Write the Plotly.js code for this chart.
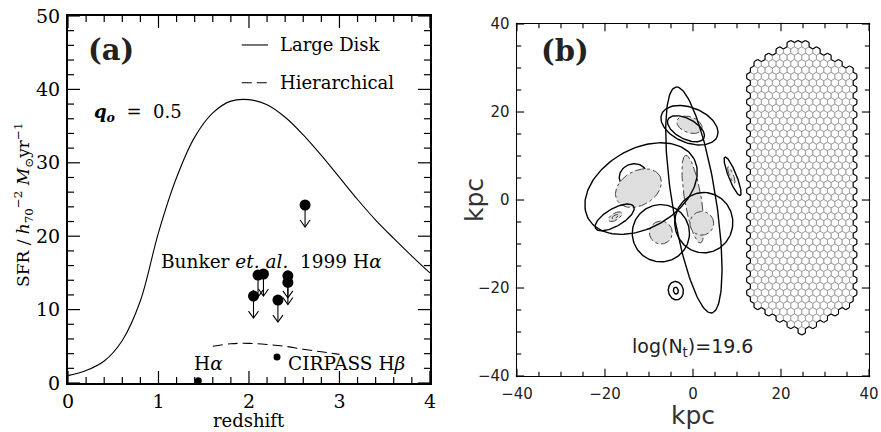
<!DOCTYPE html>
<html><head><meta charset="utf-8">
<script src="https://cdn.plot.ly/plotly-3.0.1.min.js"></script>
<style>html,body{margin:0;padding:0;background:#fff}</style>
</head><body><div id="chart" style="width:881px;height:432px"></div>
<script>
// ---------- Panel (a) data ----------
const diskZ   = [0,0.2,0.4,0.6,0.8,1.0,1.2,1.4,1.6,1.8,2.0,2.2,2.4,2.6,2.8,3.0,3.2,3.4,3.6,3.8,4.0];
const diskSFR = [1.0,1.7,3.0,5.8,11.2,20.5,28.0,33.5,36.8,38.4,38.6,37.9,36.2,33.8,31.0,28.0,25.0,22.2,19.7,17.3,15.0];
const hierZ   = [1.6,1.8,2.0,2.2,2.4,2.6,2.8,3.0];
const hierSFR = [5.0,5.35,5.4,5.25,5.0,4.6,4.25,3.9];
const bunkerZ   = [2.62,2.10,2.16,2.05,2.32,2.43,2.43];
const bunkerSFR = [24.25,14.7,14.85,11.85,11.3,14.6,13.7];
const haZ = [1.44],  haSFR = [0.3];
const cirZ = [2.31], cirSFR = [3.55];

// ---------- Panel (b) data (kpc) ----------
// solid outline ellipses: centre x, centre y, semi-major, semi-minor, angle of major axis (deg)
const solidCx  = [-11.8, 0.2, -0.8, -1.6, -17.8, -7.3, 2.45, 9.0, -3.9, -3.9];
const solidCy  = [2.6, 0.0, 17.0, 16.2, -3.95, -7.55, -5.15, 5.4, -20.6, -20.6];
const solidA   = [13.8, 26.0, 6.8, 4.6, 5.0, 6.5, 6.85, 4.7, 2.1, 0.8];
const solidB   = [9.0, 5.0, 4.0, 2.3, 2.0, 6.5, 6.6, 0.9, 1.7, 0.55];
const solidAng = [30, 99, -22, -28, 30, 0, 90, 111.6, 100, 100];
// lobe behind the grey region
const lobeCx = [-13.6], lobeCy = [5.4], lobeA = [3.2], lobeB = [2.8], lobeAng = [20];
// grey filled regions (dash-dot outline)
const greyCx  = [-0.8, 0.0, -12.4, -17.7, -7.3, 2.0, 8.7, -17.7];
const greyCy  = [17.1, 0.2, 2.7, -3.8, -7.4, -5.3, 5.7, -3.8];
const greyA   = [3.0, 10.1, 5.6, 1.7, 2.6, 2.7, 2.0, 0.8];
const greyB   = [1.8, 1.9, 3.9, 0.8, 2.6, 2.7, 0.45, 0.35];
const greyAng = [-20, 99.5, 30, 30, 0, 0, 111.6, 30];
// hexagonal fibre bundle
const hexLeft = 12.2, hexRight = 36.4, hexApexX = 24.3;
const hexTopSide = 30.3, hexTopApex = 36.9, hexBotSide = -23.7, hexBotApex = -30.7;
const hexCellsAcross = 14.5;

function ellipsePts(cx, cy, a, b, angDeg, n) {
  const th = angDeg * Math.PI / 180, xs = [], ys = [];
  for (let i = 0; i <= n; i++) {
    const t = 2 * Math.PI * i / n;
    xs.push(cx + a * Math.cos(t) * Math.cos(th) - b * Math.sin(t) * Math.sin(th));
    ys.push(cy + a * Math.cos(t) * Math.sin(th) + b * Math.sin(t) * Math.cos(th));
  }
  return [xs, ys];
}

const traces = [];
// Panel (a)
traces.push({x: diskZ, y: diskSFR, mode: 'lines', line: {color: '#000', width: 1.1, shape: 'spline', smoothing: 1}, xaxis: 'x', yaxis: 'y', hoverinfo: 'skip'});
traces.push({x: hierZ, y: hierSFR, mode: 'lines', line: {color: '#000', width: 1.1, shape: 'spline', dash: '10px,5px'}, xaxis: 'x', yaxis: 'y', hoverinfo: 'skip'});
// upper-limit arrows
const arrowLen = 3.0, headH = 0.95, headW = 0.055;
const ax = [], ay = [];
for (let i = 0; i < bunkerZ.length; i++) {
  const z = bunkerZ[i], s = bunkerSFR[i], tip = s - arrowLen;
  ax.push(z, z, null, z - headW, z, z + headW, null);
  ay.push(s, tip, null, tip + headH, tip, tip + headH, null);
}
traces.push({x: ax, y: ay, mode: 'lines', line: {color: '#000', width: 1.1}, xaxis: 'x', yaxis: 'y', hoverinfo: 'skip'});
traces.push({x: bunkerZ, y: bunkerSFR, mode: 'markers', marker: {color: '#000', size: 11}, xaxis: 'x', yaxis: 'y', hoverinfo: 'skip'});
traces.push({x: haZ.concat(cirZ), y: haSFR.concat(cirSFR), mode: 'markers', marker: {color: '#000', size: 7}, xaxis: 'x', yaxis: 'y', hoverinfo: 'skip', cliponaxis: false});

// Panel (b): hex grid
{
  const w = (hexRight - hexLeft) / hexCellsAcross;
  const R = w / Math.sqrt(3);
  const dy = 1.5 * R;
  const half = (hexRight - hexLeft) / 2;
  const roofTop = x => hexTopSide + (hexTopApex - hexTopSide) * (1 - Math.abs(x - hexApexX) / half);
  const roofBot = x => hexBotSide - (hexBotSide - hexBotApex) * (1 - Math.abs(x - hexApexX) / half);
  const gx = [], gy = [];
  const edgeCount = {}, edgeSeg = {};
  let row = 0;
  for (let yc = hexBotApex + R; yc <= hexTopApex; yc += dy, row++) {
    const off = (row % 2) ? w : w / 2;
    for (let k = 0; k < 15; k++) {
      const xc = hexLeft + off + k * w;
      if (xc > hexRight) continue;
      if (yc > roofTop(xc) - 0.45 * R || yc < roofBot(xc) + 0.45 * R) continue;
      const vx = [], vy = [];
      for (let j = 0; j < 6; j++) {
        const ang = Math.PI / 2 + j * Math.PI / 3;
        vx.push(xc + R * Math.cos(ang)); vy.push(yc + R * Math.sin(ang));
      }
      for (let j = 0; j <= 6; j++) { gx.push(vx[j % 6]); gy.push(vy[j % 6]); }
      gx.push(null); gy.push(null);
      for (let j = 0; j < 6; j++) {
        const x1 = vx[j], y1 = vy[j], x2 = vx[(j + 1) % 6], y2 = vy[(j + 1) % 6];
        const key = Math.round((x1 + x2) * 50) + '_' + Math.round((y1 + y2) * 50);
        edgeCount[key] = (edgeCount[key] || 0) + 1;
        edgeSeg[key] = [x1, y1, x2, y2];
      }
    }
  }
  traces.push({x: gx, y: gy, mode: 'lines', line: {color: '#9a9a9a', width: 0.7}, xaxis: 'x2', yaxis: 'y2', hoverinfo: 'skip'});
  const bx = [], by = [];
  for (const key in edgeCount) {
    if (edgeCount[key] === 1) {
      const s = edgeSeg[key];
      bx.push(s[0], s[2], null); by.push(s[1], s[3], null);
    }
  }
  traces.push({x: bx, y: by, mode: 'lines', line: {color: '#000', width: 1.1}, xaxis: 'x2', yaxis: 'y2', hoverinfo: 'skip'});
}
// lobe (behind grey)
for (let i = 0; i < lobeCx.length; i++) {
  const p = ellipsePts(lobeCx[i], lobeCy[i], lobeA[i], lobeB[i], lobeAng[i], 90);
  traces.push({x: p[0], y: p[1], mode: 'lines', line: {color: '#000', width: 1.4}, xaxis: 'x2', yaxis: 'y2', hoverinfo: 'skip'});
}
// grey filled
for (let i = 0; i < greyCx.length; i++) {
  const p = ellipsePts(greyCx[i], greyCy[i], greyA[i], greyB[i], greyAng[i], 90);
  traces.push({x: p[0], y: p[1], mode: 'lines', fill: 'toself', fillcolor: '#dedede', line: {color: '#444', width: 1, dash: 'dashdot'}, xaxis: 'x2', yaxis: 'y2', hoverinfo: 'skip'});
}
// solid outlines
{
  const sx = [], sy = [];
  for (let i = 0; i < solidCx.length; i++) {
    const p = ellipsePts(solidCx[i], solidCy[i], solidA[i], solidB[i], solidAng[i], 140);
    sx.push(...p[0], null); sy.push(...p[1], null);
  }
  traces.push({x: sx, y: sy, mode: 'lines', line: {color: '#000', width: 1.4}, xaxis: 'x2', yaxis: 'y2', hoverinfo: 'skip'});
}

// ---------- inside tick marks on all four sides, drawn as line-symbol markers ----------
// pxX / pxY: pixels per data unit of each panel
function tickMarkers(xa, ya, xr, yr, xMaj, xMin, yMaj, yMin, lenMaj, lenMin, pxX, pxY, lw) {
  const out = [];
  const vx = {maj: [[], []], min: [[], []]};
  const nX = Math.round((xr[1] - xr[0]) / xMin);
  for (let i = 0; i <= nX; i++) {
    const v = xr[0] + i * xMin;
    const isMaj = Math.abs(v / xMaj - Math.round(v / xMaj)) < 1e-6;
    const L = isMaj ? lenMaj : lenMin;
    const k = isMaj ? 'maj' : 'min';
    const h = (L / 2) / pxY;
    vx[k][0].push(v, v); vx[k][1].push(yr[0] + h, yr[1] - h);
  }
  const vy = {maj: [[], []], min: [[], []]};
  const nY = Math.round((yr[1] - yr[0]) / yMin);
  for (let i = 0; i <= nY; i++) {
    const v = yr[0] + i * yMin;
    const isMaj = Math.abs(v / yMaj - Math.round(v / yMaj)) < 1e-6;
    const L = isMaj ? lenMaj : lenMin;
    const k = isMaj ? 'maj' : 'min';
    const h = (L / 2) / pxX;
    vy[k][0].push(xr[0] + h, xr[1] - h); vy[k][1].push(v, v);
  }
  ['maj', 'min'].forEach(function (k) {
    const L = k === 'maj' ? lenMaj : lenMin;
    out.push({x: vx[k][0], y: vx[k][1], mode: 'markers', xaxis: xa, yaxis: ya, hoverinfo: 'skip', cliponaxis: false,
      marker: {symbol: 'line-ns', size: L, color: '#000', line: {color: '#000', width: lw}}});
    out.push({x: vy[k][0], y: vy[k][1], mode: 'markers', xaxis: xa, yaxis: ya, hoverinfo: 'skip', cliponaxis: false,
      marker: {symbol: 'line-ew', size: L, color: '#000', line: {color: '#000', width: lw}}});
  });
  return out;
}
// panel (a): 90.5 px per redshift unit, 7.34 px per SFR unit
traces.push(...tickMarkers('x', 'y', [0, 4], [0, 50], 1, 0.2, 10, 2, 10, 5, 90.5, 7.34, 1.2));
// panel (b): 4.4 px per kpc
traces.push(...tickMarkers('x2', 'y2', [-40, 40], [-40, 40], 20, 5, 20, 5, 6, 3.5, 4.4, 4.4, 1.1));

const shapes = [
  {type: 'line', xref: 'x', yref: 'y', x0: 1.92, x1: 2.21, y0: 46.05, y1: 46.05, line: {color: '#000', width: 1.1}},
  {type: 'line', xref: 'x', yref: 'y', x0: 1.92, x1: 2.21, y0: 40.9, y1: 40.9, line: {color: '#000', width: 1.1, dash: '10px,5px'}}
];

const serif = 'DejaVu Serif';
const sans = 'DejaVu Sans';
function axA(extra) {
  return Object.assign({ticks: '', showline: true, linecolor: '#000', mirror: true, showgrid: false, zeroline: false}, extra);
}
const layout = {
  width: 881, height: 432,
  margin: {l: 0, r: 0, t: 0, b: 0},
  paper_bgcolor: '#fff', plot_bgcolor: '#fff',
  showlegend: false,
  xaxis: axA({domain: [0.0772, 0.488], range: [0, 4], dtick: 1, linewidth: 2, ticklabelstandoff: 0,
    tickfont: {family: serif, size: 19, color: '#000'}, anchor: 'y'}),
  yaxis: axA({domain: [0.1134, 0.963], range: [0, 50], dtick: 10, linewidth: 2, ticklabelstandoff: 2,
    tickfont: {family: serif, size: 19, color: '#000'}, anchor: 'x'}),
  xaxis2: axA({domain: [0.5868, 0.9864], range: [-40, 40], dtick: 20, linewidth: 1.4, ticklabelstandoff: 4,
    tickfont: {family: sans, size: 15, color: '#222'}, anchor: 'y2'}),
  yaxis2: axA({domain: [0.1296, 0.9444], range: [-40, 40], dtick: 20, linewidth: 1.4, ticklabelstandoff: 3,
    tickfont: {family: sans, size: 15, color: '#222'}, anchor: 'x2'}),
  shapes: shapes,
  annotations: [
    {xref: 'x', yref: 'y', x: 0.2, y: 45.4, xanchor: 'left', yanchor: 'middle', showarrow: false, text: '<b>(a)</b>', font: {family: serif, size: 29, color: '#222'}},
    {xref: 'x', yref: 'y', x: 2.32, y: 46.05, xanchor: 'left', yanchor: 'middle', showarrow: false, text: 'Large Disk', font: {family: serif, size: 18, color: '#000'}},
    {xref: 'x', yref: 'y', x: 2.32, y: 40.9, xanchor: 'left', yanchor: 'middle', showarrow: false, text: 'Hierarchical', font: {family: serif, size: 18, color: '#000'}},
    {xref: 'x', yref: 'y', x: 0.27, y: 36.8, xanchor: 'left', yanchor: 'middle', showarrow: false, text: '<b><i>q</i></b><sub><b><i>o</i></b></sub>\u00a0 = \u00a00.5', font: {family: serif, size: 18, color: '#000'}},
    {xref: 'x', yref: 'y', x: 1.01, y: 16.6, xanchor: 'left', yanchor: 'middle', showarrow: false, text: 'Bunker <i>et. al.</i>\u00a0 1999 H<i>α</i>', font: {family: serif, size: 18.5, color: '#000'}},
    {xref: 'x', yref: 'y', x: 1.37, y: 2.6, xanchor: 'left', yanchor: 'middle', showarrow: false, text: 'H<i>α</i>', font: {family: serif, size: 18.5, color: '#000'}},
    {xref: 'x', yref: 'y', x: 2.41, y: 2.6, xanchor: 'left', yanchor: 'middle', showarrow: false, text: 'CIRPASS H<i>β</i>', font: {family: serif, size: 18.5, color: '#000'}},
    {xref: 'paper', yref: 'paper', x: 249 / 881, y: 1 - 420 / 432, xanchor: 'center', yanchor: 'middle', showarrow: false, text: 'redshift', font: {family: serif, size: 18, color: '#000'}},
    {xref: 'paper', yref: 'paper', x: 24 / 881, y: 1 - 205 / 432, xanchor: 'center', yanchor: 'middle', textangle: -90, showarrow: false,
      text: 'SFR / <i>h</i><sub>70</sub><sup>−2</sup> <i>M</i><sub>⊙</sub>yr<sup>−1</sup>', font: {family: serif, size: 17, color: '#000'}},
    {xref: 'x2', yref: 'y2', x: -35, y: 33.9, xanchor: 'left', yanchor: 'middle', showarrow: false, text: '<b>(b)</b>', font: {family: serif, size: 29, color: '#222'}},
    {xref: 'x2', yref: 'y2', x: -0.2, y: -33.6, xanchor: 'center', yanchor: 'middle', showarrow: false, text: 'log(N<sub>t</sub>)=19.6', font: {family: sans, size: 19, color: '#222'}},
    {xref: 'paper', yref: 'paper', x: 693 / 881, y: 1 - 415 / 432, xanchor: 'center', yanchor: 'middle', showarrow: false, text: 'kpc', font: {family: sans, size: 25, color: '#333'}},
    {xref: 'paper', yref: 'paper', x: 474 / 881, y: 1 - 200 / 432, xanchor: 'center', yanchor: 'middle', textangle: -90, showarrow: false, text: 'kpc', font: {family: sans, size: 25, color: '#333'}}
  ]
};
Plotly.newPlot('chart', traces, layout, {staticPlot: true, displayModeBar: false});
</script>
</body></html>
